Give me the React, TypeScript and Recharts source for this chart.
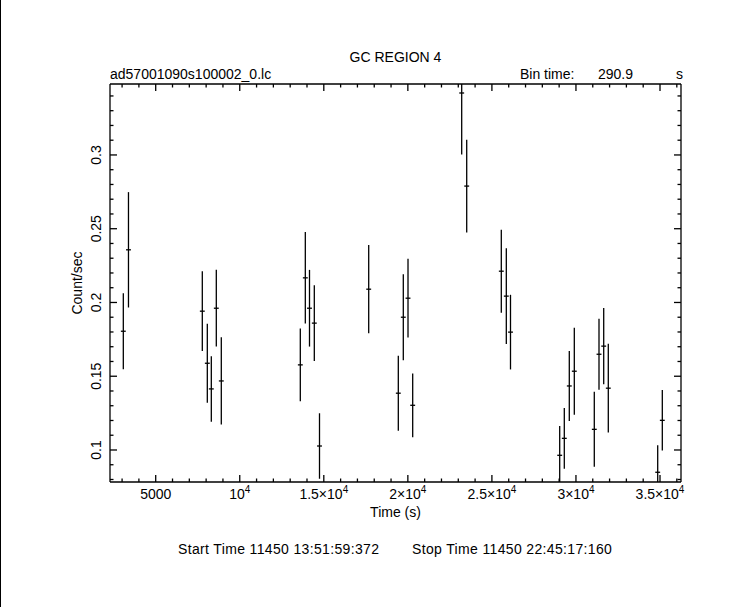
import React from "react";
import { ScatterChart, Scatter, XAxis, YAxis, ErrorBar } from "recharts";

// ---- data ----
const times = [
  3073, 3380, 7772, 8070, 8308, 8605, 8902, 13602, 13900, 14149, 14435, 14744,
  17671, 19432, 19729, 20009, 20288, 23203, 23501, 25559, 25857, 26106, 29033,
  29307, 29604, 29902, 31091, 31371, 31651, 31924, 34863, 35137,
];
const rates = [
  0.1805, 0.2357, 0.1941, 0.1588, 0.1414, 0.1961, 0.1468, 0.1577, 0.2167,
  0.1961, 0.186, 0.1027, 0.209, 0.1385, 0.19, 0.2029, 0.1303, 0.342, 0.2789,
  0.2212, 0.2043, 0.1799, 0.0964, 0.1079, 0.1434, 0.1534, 0.114, 0.1649,
  0.1704, 0.1419, 0.0849, 0.1201,
];
const rateErrors = [
  0.0257, 0.0391, 0.027, 0.0267, 0.0222, 0.026, 0.0296, 0.0247, 0.031, 0.026,
  0.0256, 0.0222, 0.0299, 0.0254, 0.0291, 0.0267, 0.0216, 0.0417, 0.0314,
  0.0281, 0.0325, 0.0253, 0.0199, 0.0206, 0.0237, 0.0295, 0.0254, 0.0241,
  0.0258, 0.0301, 0.0183, 0.0205,
];
const binTime = 290.9;

const xDomain = [2281, 36249];
const yDomain = [0.0783, 0.3481];

const xTicks = [
  3000, 4000, 5000, 6000, 7000, 8000, 9000, 10000, 11000, 12000, 13000, 14000,
  15000, 16000, 17000, 18000, 19000, 20000, 21000, 22000, 23000, 24000, 25000,
  26000, 27000, 28000, 29000, 30000, 31000, 32000, 33000, 34000, 35000, 36000,
];
const xMajorTicks = [5000, 10000, 15000, 20000, 25000, 30000, 35000];
const xMajorLabels = ["5000", "10^4", "1.5×10^4", "2×10^4", "2.5×10^4", "3×10^4", "3.5×10^4"];

const yTicks = [
  0.08, 0.09, 0.1, 0.11, 0.12, 0.13, 0.14, 0.15, 0.16, 0.17, 0.18, 0.19, 0.2,
  0.21, 0.22, 0.23, 0.24, 0.25, 0.26, 0.27, 0.28, 0.29, 0.3, 0.31, 0.32, 0.33,
  0.34,
];
const yMajorTicks = [0.1, 0.15, 0.2, 0.25, 0.3];
const yMajorLabels = ["0.1", "0.15", "0.2", "0.25", "0.3"];

const title = "GC REGION 4";
const fileName = "ad57001090s100002_0.lc";
const binLabel = "Bin time:";
const binValue = "290.9";
const binUnit = "s";
const xLabel = "Time (s)";
const yLabel = "Count/sec";
const startText = "Start Time 11450 13:51:59:372";
const stopText = "Stop Time 11450 22:45:17:160";

// error bars are clipped to the plotted range, like the original viewport
const data = times.map((t, i) => ({
  t,
  rate: rates[i],
  err: [
    Math.min(rateErrors[i], rates[i] - yDomain[0]),
    Math.min(rateErrors[i], yDomain[1] - rates[i]),
  ],
  xerr: binTime / 2,
}));

const FONT = "'Liberation Sans', Arial, sans-serif";
const MAJOR = 7;
const MINOR = 3.5;
const SW = 1.3;

function supLabel(label: string) {
  const [base, exp] = label.split("^");
  return (
    <>
      {base}
      {exp ? (
        <tspan dy={-6} fontSize={10}>
          {exp}
        </tspan>
      ) : null}
    </>
  );
}

const BottomTick = (props: any) => {
  const { x, y, payload } = props;
  const idx = xMajorTicks.indexOf(payload.value);
  const len = idx >= 0 ? MAJOR : MINOR;
  return (
    <g>
      <line x1={x} y1={y} x2={x} y2={y - len} stroke="#000" strokeWidth={SW} />
      {idx >= 0 ? (
        <text x={x} y={y + 17} textAnchor="middle" fontSize={14} fontFamily={FONT} fill="#000">
          {supLabel(xMajorLabels[idx])}
        </text>
      ) : null}
    </g>
  );
};

const TopTick = (props: any) => {
  const { x, y, payload } = props;
  const len = xMajorTicks.indexOf(payload.value) >= 0 ? MAJOR : MINOR;
  return <line x1={x} y1={y} x2={x} y2={y + len} stroke="#000" strokeWidth={SW} />;
};

const LeftTick = (props: any) => {
  const { x, y, payload } = props;
  const idx = yMajorTicks.indexOf(payload.value);
  const len = idx >= 0 ? MAJOR : MINOR;
  return (
    <g>
      <line x1={x} y1={y} x2={x + len} y2={y} stroke="#000" strokeWidth={SW} />
      {idx >= 0 ? (
        <text
          x={x - 8.5}
          y={y}
          transform={`rotate(-90 ${x - 8.5} ${y})`}
          textAnchor="middle"
          fontSize={14}
          fontFamily={FONT}
          fill="#000"
        >
          {yMajorLabels[idx]}
        </text>
      ) : null}
    </g>
  );
};

const RightTick = (props: any) => {
  const { x, y, payload } = props;
  const len = yMajorTicks.indexOf(payload.value) >= 0 ? MAJOR : MINOR;
  return <line x1={x} y1={y} x2={x - len} y2={y} stroke="#000" strokeWidth={SW} />;
};

export default function App() {
  return (
    <div style={{ position: "absolute", left: 0, top: 0, width: 748, height: 607, background: "#fff" }}>
      <div style={{ position: "absolute", left: 0, top: 0, width: 1, height: 607, background: "#000" }} />
      <ScatterChart
        width={748}
        height={607}
        margin={{ top: 74, right: 57, bottom: 85, left: 70 }}
      >
        <XAxis
          xAxisId="bottom"
          type="number"
          dataKey="t"
          orientation="bottom"
          domain={xDomain}
          allowDataOverflow
          ticks={xTicks}
          interval={0}
          height={40}
          tickSize={0}
          tickMargin={0}
          tickLine={false}
          axisLine={{ stroke: "#000", strokeWidth: SW }}
          tick={<BottomTick />}
        />
        <XAxis
          xAxisId="top"
          type="number"
          dataKey="t"
          orientation="top"
          domain={xDomain}
          allowDataOverflow
          ticks={xTicks}
          interval={0}
          height={10}
          tickSize={0}
          tickMargin={0}
          tickLine={false}
          axisLine={{ stroke: "#000", strokeWidth: SW }}
          tick={<TopTick />}
        />
        <YAxis
          yAxisId="left"
          type="number"
          dataKey="rate"
          orientation="left"
          domain={yDomain}
          allowDataOverflow
          ticks={yTicks}
          interval={0}
          width={40}
          tickSize={0}
          tickMargin={0}
          tickLine={false}
          axisLine={{ stroke: "#000", strokeWidth: SW }}
          tick={<LeftTick />}
        />
        <YAxis
          yAxisId="right"
          type="number"
          dataKey="rate"
          orientation="right"
          domain={yDomain}
          allowDataOverflow
          ticks={yTicks}
          interval={0}
          width={10}
          tickSize={0}
          tickMargin={0}
          tickLine={false}
          axisLine={{ stroke: "#000", strokeWidth: SW }}
          tick={<RightTick />}
        />
        <Scatter
          data={data}
          xAxisId="bottom"
          yAxisId="left"
          isAnimationActive={false}
          shape={() => <g />}
        >
          <ErrorBar dataKey="err" direction="y" width={0} stroke="#000" strokeWidth={SW} isAnimationActive={false} />
          <ErrorBar dataKey="xerr" direction="x" width={0} stroke="#000" strokeWidth={SW} isAnimationActive={false} />
        </Scatter>
      </ScatterChart>
      <svg
        width={748}
        height={607}
        style={{ position: "absolute", left: 0, top: 0, pointerEvents: "none" }}
        fontFamily={FONT}
        fill="#000"
      >
        <text x={395.5} y={62} textAnchor="middle" fontSize={14}>{title}</text>
        <text x={110} y={79} fontSize={14}>{fileName}</text>
        <text x={520} y={79} fontSize={14}>{binLabel}</text>
        <text x={598} y={79} fontSize={14}>{binValue}</text>
        <text x={676} y={79} fontSize={14}>{binUnit}</text>
        <text x={395.5} y={517} textAnchor="middle" fontSize={14}>{xLabel}</text>
        <text x={81.5} y={283} transform="rotate(-90 81.5 283)" textAnchor="middle" fontSize={14}>{yLabel}</text>
        <text x={178} y={554} fontSize={14} letterSpacing={0.35}>{startText}</text>
        <text x={412} y={554} fontSize={14} letterSpacing={0.35}>{stopText}</text>
      </svg>
    </div>
  );
}
